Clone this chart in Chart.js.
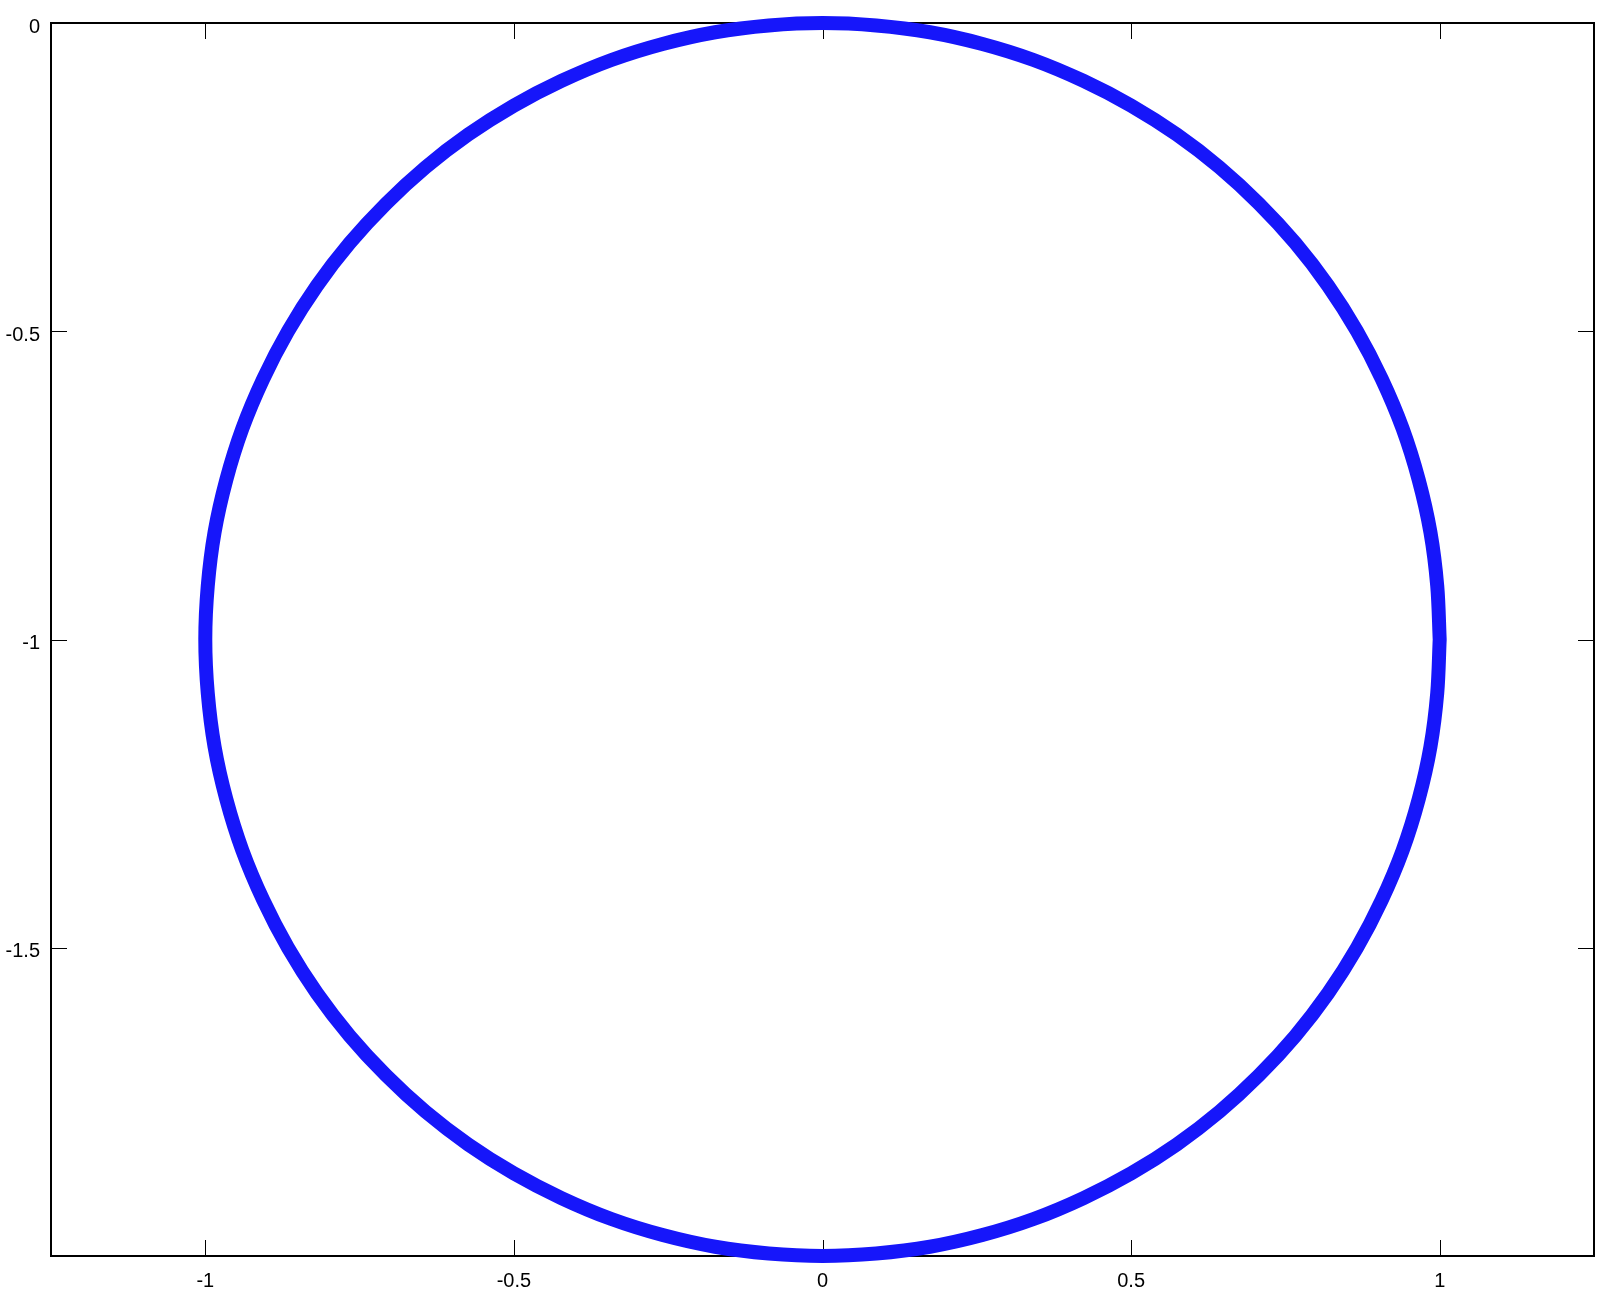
<!DOCTYPE html>
<html>
<head>
<meta charset="utf-8">
<script src="https://cdn.jsdelivr.net/npm/chart.js@4.4.1/dist/chart.umd.min.js"></script>
<style>
  html, body { margin: 0; padding: 0; background: #fff; }
  #wrap { width: 1600px; height: 1289px; }
</style>
</head>
<body>
<div id="wrap"><canvas id="chart" width="1600" height="1289"></canvas></div>
<script>
// points (circle around (0,-1))
const circleX = [
  1.000, 0.996, 0.985, 0.966, 0.940, 0.906, 0.866, 0.819, 0.766, 0.707, 0.643, 0.574, 0.500, 0.423, 0.342, 0.259, 0.174, 0.087, 0.000,
  -0.087, -0.174, -0.259, -0.342, -0.423, -0.500, -0.574, -0.643, -0.707, -0.766, -0.819, -0.866, -0.906, -0.940, -0.966, -0.985, -0.996, -1.000,
  -0.996, -0.985, -0.966, -0.940, -0.906, -0.866, -0.819, -0.766, -0.707, -0.643, -0.574, -0.500, -0.423, -0.342, -0.259, -0.174, -0.087, 0.000,
  0.087, 0.174, 0.259, 0.342, 0.423, 0.500, 0.574, 0.643, 0.707, 0.766, 0.819, 0.866, 0.906, 0.940, 0.966, 0.985, 0.996, 1.000
];
const circleY = [
  -1.000, -0.913, -0.826, -0.741, -0.658, -0.577, -0.500, -0.426, -0.357, -0.293, -0.234, -0.181, -0.134, -0.094, -0.060, -0.034, -0.015, -0.004, 0.000,
  -0.004, -0.015, -0.034, -0.060, -0.094, -0.134, -0.181, -0.234, -0.293, -0.357, -0.426, -0.500, -0.577, -0.658, -0.741, -0.826, -0.913, -1.000,
  -1.087, -1.174, -1.259, -1.342, -1.423, -1.500, -1.574, -1.643, -1.707, -1.766, -1.819, -1.866, -1.906, -1.940, -1.966, -1.985, -1.996, -2.000,
  -1.996, -1.985, -1.966, -1.940, -1.906, -1.866, -1.819, -1.766, -1.707, -1.643, -1.574, -1.500, -1.423, -1.342, -1.259, -1.174, -1.087, -1.000
];
const xTicks = [-1, -0.5, 0, 0.5, 1];
const yTicks = [-1.5, -1, -0.5, 0];
const xRange = [-1.25, 1.25];
const yRange = [-2, 0];

const pts = circleX.map((x, i) => ({ x: x, y: circleY[i] }));

// box + inward ticks on all four sides (octave style)
const boxTicks = {
  id: 'boxTicks',
  beforeDatasetsDraw(chart) {
    const { ctx, chartArea: a, scales } = chart;
    const len = 16;
    ctx.save();
    ctx.strokeStyle = '#000';
    ctx.lineWidth = 1;
    ctx.beginPath();
    xTicks.forEach(v => {
      const px = Math.round(scales.x.getPixelForValue(v)) + 0.5;
      ctx.moveTo(px, a.bottom); ctx.lineTo(px, a.bottom - len);
      ctx.moveTo(px, a.top); ctx.lineTo(px, a.top + len);
    });
    yTicks.forEach(v => {
      const py = Math.round(scales.y.getPixelForValue(v)) + 0.5;
      ctx.moveTo(a.left, py); ctx.lineTo(a.left + len, py);
      ctx.moveTo(a.right, py); ctx.lineTo(a.right - len, py);
    });
    ctx.stroke();
    ctx.lineWidth = 2;
    ctx.strokeRect(a.left, a.top, a.right - a.left, a.bottom - a.top);
    ctx.restore();
  }
};

new Chart(document.getElementById('chart'), {
  type: 'scatter',
  data: {
    datasets: [{
      data: pts,
      showLine: true,
      borderColor: 'rgb(22,22,250)',
      borderWidth: 14,
      borderJoinStyle: 'round',
      borderCapStyle: 'round',
      pointRadius: 0,
      tension: 0.33,
      clip: false
    }]
  },
  options: {
    responsive: false,
    animation: false,
    layout: { padding: { top: 21, right: 6, left: 0, bottom: 0 } },
    plugins: { legend: { display: false }, tooltip: { enabled: false } },
    scales: {
      x: {
        type: 'linear',
        min: xRange[0], max: xRange[1],
        afterBuildTicks: s => { s.ticks = xTicks.map(v => ({ value: v })); },
        afterFit: s => { s.height = 33; },
        grid: { display: false, drawTicks: false },
        border: { display: false },
        ticks: {
          color: '#000', padding: 13, maxRotation: 0,
          font: { family: '"Liberation Sans", Arial, sans-serif', size: 20 },
          callback: v => String(v)
        }
      },
      y: {
        type: 'linear',
        min: yRange[0], max: yRange[1],
        afterBuildTicks: s => { s.ticks = yTicks.map(v => ({ value: v })); },
        afterFit: s => { s.width = 51; },
        grid: { display: false, drawTicks: false },
        border: { display: false },
        ticks: {
          color: '#000', padding: 11, labelOffset: 4,
          font: { family: '"Liberation Sans", Arial, sans-serif', size: 20 },
          callback: v => String(v)
        }
      }
    }
  },
  plugins: [boxTicks]
});
</script>
</body>
</html>
